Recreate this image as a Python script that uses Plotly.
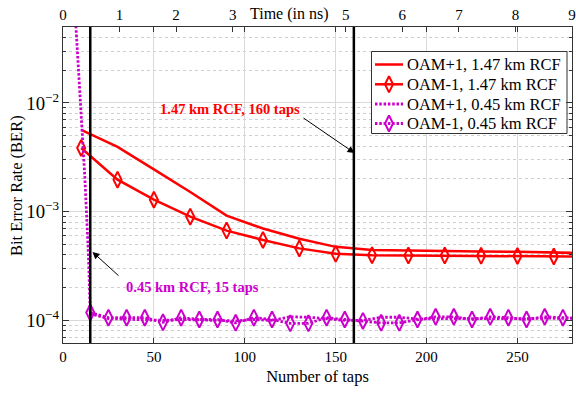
import plotly.graph_objects as go

# ---------------- data ----------------
taps_147 = [10, 30, 50, 70, 90, 110, 130, 150, 170, 190, 210, 230, 250, 270, 290]
ber_oam_p1_147 = [5.65e-3, 3.95e-3, 2.45e-3, 1.52e-3, 9.2e-4, 7.0e-4, 5.65e-4, 4.75e-4,
                  4.45e-4, 4.38e-4, 4.33e-4, 4.3e-4, 4.28e-4, 4.18e-4, 4.15e-4]
ber_oam_m1_147 = [3.86e-3, 1.97e-3, 1.29e-3, 9.0e-4, 6.7e-4, 5.5e-4, 4.6e-4, 4.1e-4,
                  3.98e-4, 3.96e-4, 3.95e-4, 3.93e-4, 3.92e-4, 3.88e-4, 3.86e-4]

taps_045_p1 = [5, 12, 14, 15, 25, 35, 45, 55, 65, 75, 85, 95, 105, 115, 125, 135, 145,
               155, 165, 175, 185, 195, 205, 215, 225, 235, 245, 255, 265, 275, 285]
ber_oam_p1_045 = [0.2, 2.1e-3, 4.0e-4, 1.15e-4, 1.04e-4, 1.03e-4, 1.02e-4, 1.0e-4, 1.02e-4,
                  1.01e-4, 1.0e-4, 9.9e-5, 1.02e-4, 1.0e-4, 1.08e-4, 1.07e-4, 1.04e-4,
                  1.0e-4, 1.0e-4, 1.07e-4, 1.07e-4, 1.03e-4, 1.04e-4, 1.04e-4, 1.03e-4,
                  1.04e-4, 1.04e-4, 1.04e-4, 1.05e-4, 1.04e-4, 1.04e-4]

taps_045_m1 = [15, 25, 35, 45, 55, 65, 75, 85, 95, 105, 115, 125, 135, 145, 155,
               165, 175, 185, 195, 205, 215, 225, 235, 245, 255, 265, 275, 285]
ber_oam_m1_045 = [1.18e-4, 1.06e-4, 1.06e-4, 1.06e-4, 9.6e-5, 1.06e-4, 1.02e-4, 1.02e-4,
                  9.5e-5, 1.06e-4, 1.02e-4, 9.4e-5, 9.4e-5, 1.06e-4, 1.02e-4,
                  9.9e-5, 9.5e-5, 9.5e-5, 1.02e-4, 1.08e-4, 1.08e-4, 1.02e-4, 1.08e-4,
                  1.06e-4, 1.02e-4, 1.08e-4, 1.06e-4, 1.05e-4]

series_names = ["OAM+1, 1.47 km RCF", "OAM-1, 1.47 km RCF",
                "OAM+1, 0.45 km RCF", "OAM-1, 0.45 km RCF"]
marker_taps = [15, 160]
time_ticks = [0, 1, 2, 3, 5, 6, 7, 8, 9]
tap_ticks = [0, 50, 100, 150, 200, 250]
x_range = [0, 280]
time_range = [0, 9]

RED = "#ff0000"
MAG = "#cc00cc"
FONT = "Liberation Serif"
DOT = "2.5px,1.8px"

# plot-area geometry (pixels in the 576x393 page)
PX0, PX1, PY0, PY1 = 63, 572, 27, 343

styles = [
    dict(color=RED, dash="solid", width=2.5, marker=False),
    dict(color=RED, dash="solid", width=2.5, marker=True),
    dict(color=MAG, dash=DOT, width=2.8, marker=False),
    dict(color=MAG, dash=DOT, width=2.8, marker=True),
]
series = [(taps_147, ber_oam_p1_147), (taps_147, ber_oam_m1_147),
          (taps_045_p1, ber_oam_p1_045), (taps_045_m1, ber_oam_m1_045)]


def mk(color):
    return dict(symbol="diamond-tall-open", size=11.5, color=color,
                line=dict(width=2, color=color))


fig = go.Figure()

for name, (xs, ys), st in zip(series_names, series, styles):
    fig.add_trace(go.Scatter(
        x=xs, y=ys, name=name,
        mode="lines+markers" if st["marker"] else "lines",
        line=dict(color=st["color"], width=st["width"], dash=st["dash"]),
        marker=mk(st["color"]) if st["marker"] else None,
        showlegend=False))

# invisible trace for the top time axis
fig.add_trace(go.Scatter(x=time_range, y=[1e-3, 1e-3], xaxis="x2", mode="markers",
                         marker=dict(opacity=0), showlegend=False, hoverinfo="skip"))

for t in marker_taps:
    fig.add_shape(type="line", x0=t, x1=t, y0=0, y1=1, xref="x", yref="y domain",
                  line=dict(color="black", width=2.5))

# ---------- hand-made legend (pixel overlay axes x3/y3) ----------
LX0, LX1, LY0, LY1 = 371.5, 567, 51.5, 133.5
row_y = [64.5, 84.3, 104, 123.5]
fig.add_trace(go.Scatter(x=[LX0, LX1, LX1, LX0, LX0], y=[LY0, LY0, LY1, LY1, LY0],
                         xaxis="x3", yaxis="y3", mode="lines", fill="toself",
                         fillcolor="white", line=dict(color="#333333", width=1),
                         showlegend=False, hoverinfo="skip"))
for name, st, ry in zip(series_names, styles, row_y):
    fig.add_shape(type="line", x0=375, x1=403, y0=ry, y1=ry, xref="x3", yref="y3",
                  layer="above",
                  line=dict(color=st["color"], width=st["width"], dash=st["dash"]))
    fig.add_annotation(x=405, y=ry, xref="x3", yref="y3", xanchor="left",
                       yanchor="middle", text=name, showarrow=False,
                       font=dict(family=FONT, size=16.5, color="black"))
    if st["marker"]:
        fig.add_trace(go.Scatter(x=[389], y=[ry], xaxis="x3", yaxis="y3", mode="markers",
                                 marker=mk(st["color"]), showlegend=False,
                                 hoverinfo="skip", cliponaxis=False))

# ---------- annotations ----------
fig.add_annotation(x=354.5, y=153, xref="x3", yref="y3",
                   ax=302, ay=117, axref="x3", ayref="y3",
                   text="", showarrow=True,
                   arrowhead=2, arrowsize=1.4, arrowwidth=1, arrowcolor="black")
fig.add_annotation(x=229.5, y=109, xref="x3", yref="y3",
                   text="<b>1.47 km RCF, 160 taps</b>", showarrow=False,
                   font=dict(family=FONT, size=14.5, color=RED))
fig.add_annotation(x=92.5, y=252, xref="x3", yref="y3",
                   ax=120, ay=277, axref="x3", ayref="y3",
                   text="", showarrow=True,
                   arrowhead=2, arrowsize=1.4, arrowwidth=1, arrowcolor="black")
fig.add_annotation(x=192, y=287, xref="x3", yref="y3",
                   text="<b>0.45 km RCF, 15 taps</b>", showarrow=False,
                   font=dict(family=FONT, size=14.5, color=MAG))
# top axis title in place of "4"
fig.add_annotation(x=4, y=1, xref="x2", yref="y domain", yanchor="bottom", yshift=2,
                   text="Time (in ns)", showarrow=False,
                   font=dict(family=FONT, size=16, color="black"))
# y axis title (paper coordinates, left of the plot area)
fig.add_annotation(x=(16 - PX0) / (PX1 - PX0), y=(PY1 - 186) / (PY1 - PY0),
                   xref="paper", yref="paper", textangle=-90,
                   xanchor="center", yanchor="middle",
                   text="Bit Error Rate (BER)", showarrow=False,
                   font=dict(family=FONT, size=16.5, color="black"))

fig.update_layout(
    width=576, height=393,
    margin=dict(l=PX0, r=576 - PX1, t=PY0, b=393 - PY1, autoexpand=False),
    paper_bgcolor="white", plot_bgcolor="white",
    font=dict(family=FONT, size=15, color="black"),
    showlegend=False,
    xaxis=dict(range=x_range, tickvals=tap_ticks,
               ticks="inside", ticklen=5, tickcolor="#333", mirror="ticks",
               showline=True, linecolor="#333", linewidth=1,
               showgrid=True, gridcolor="#d9d9d9", gridwidth=1, zeroline=False,
               title=dict(text="Number of taps", standoff=6, font=dict(size=16.5)),
               tickfont=dict(size=15), automargin=False),
    xaxis2=dict(range=time_range, overlaying="x", side="top", tickvals=time_ticks,
                ticks="inside", ticklen=5, tickcolor="#333",
                showline=True, linecolor="#333", linewidth=1,
                showgrid=False, zeroline=False, tickfont=dict(size=15),
                ticklabeloverflow="allow", automargin=False),
    xaxis3=dict(range=[PX0, PX1], overlaying="x", visible=False, fixedrange=True),
    yaxis3=dict(range=[PY1, PY0], overlaying="y", visible=False, fixedrange=True),
    yaxis=dict(type="log", range=[-4.2076, -1.30103], dtick=1,
               exponentformat="power", showexponent="all",
               ticks="inside", ticklen=6, tickcolor="#333", mirror="ticks",
               showline=True, linecolor="#333", linewidth=1,
               showgrid=True, gridcolor="#d9d9d9", gridwidth=1, zeroline=False,
               minor=dict(ticks="inside", ticklen=3, tickcolor="#333",
                          showgrid=True, gridcolor="#cfcfcf", griddash="dot", gridwidth=1),
               tickfont=dict(size=15), automargin=False),
)

fig.write_html("out.html", config={"displayModeBar": False},
               post_script="document.body.style.margin='0px';")
